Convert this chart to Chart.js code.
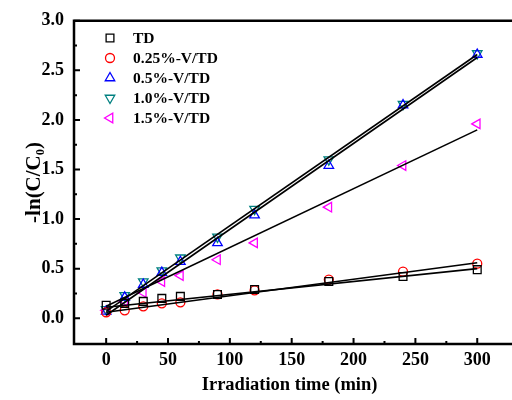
<!DOCTYPE html>
<html>
<head>
<meta charset="utf-8">
<script src="https://cdn.jsdelivr.net/npm/chart.js@4/dist/chart.umd.min.js"></script>
<style>
  html, body { margin: 0; padding: 0; background: #fff; }
  #wrap { width: 512px; height: 400px; }
</style>
</head>
<body>
<div id="wrap"><canvas id="graph"></canvas></div>
<script>
// irradiation times (min)
const times = [0, 15, 30, 45, 60, 90, 120, 180, 240, 300];

// -ln(C/C0) per sample
const tdVals   = [0.13, 0.15, 0.17, 0.20, 0.22, 0.24, 0.29, 0.37, 0.42, 0.49];
const v025Vals = [0.06, 0.08, 0.12, 0.15, 0.16, 0.24, 0.28, 0.39, 0.47, 0.55];
const v05Vals  = [0.07, 0.21, 0.34, 0.46, 0.57, 0.76, 1.04, 1.54, 2.15, 2.66];
const v10Vals  = [0.09, 0.23, 0.37, 0.48, 0.61, 0.82, 1.10, 1.60, 2.16, 2.67];
const v15Vals  = [0.08, 0.17, 0.26, 0.37, 0.43, 0.59, 0.76, 1.12, 1.54, 1.96];

// linear fit lines, read at t = 0 and t = 300
const fitTimes = [0, 300];
const fitTD   = [0.11, 0.50];
const fit025  = [0.06, 0.56];
const fit05   = [0.03, 2.63];
const fit10   = [0.07, 2.66];
const fit15   = [0.12, 1.90];

const labels = ['TD', '0.25%-V/TD', '0.5%-V/TD', '1.0%-V/TD', '1.5%-V/TD'];
const xTicks = [0, 50, 100, 150, 200, 250, 300];
const yTicks = [0.0, 0.5, 1.0, 1.5, 2.0, 2.5, 3.0];

const FONT = "'Liberation Serif', 'Times New Roman', serif";

const pts = (xs, ys) => xs.map((x, i) => ({x: x, y: ys[i]}));

function markerSet(label, vals, color, style, rot, r) {
    return {
        type: 'scatter',
        label: label,
        data: pts(times, vals),
        borderColor: color,
        backgroundColor: 'rgba(0,0,0,0)',
        pointStyle: style,
        rotation: rot,
        pointRadius: r,
        pointBorderWidth: 1.3,
        order: 1
    };
}

function fitSet(vals) {
    return {
        type: 'line',
        label: 'fit',
        data: pts(fitTimes, vals),
        borderColor: '#000',
        borderWidth: 1.6,
        pointRadius: 0,
        fill: false,
        order: 0
    };
}

const markers = [
    markerSet(labels[0], tdVals, '#000000', 'rect', 0, 5.5),
    markerSet(labels[1], v025Vals, '#ff0000', 'circle', 0, 4.5),
    markerSet(labels[2], v05Vals, '#0000ff', 'triangle', 0, 5.5),
    markerSet(labels[3], v10Vals, '#008080', 'triangle', 180, 5.5),
    markerSet(labels[4], v15Vals, '#ff00ff', 'triangle', 270, 5.5)
];

// frame, inward ticks and legend
const decor = {
    id: 'decor',
    afterDraw(chart) {
        const ctx = chart.ctx;
        const a = chart.chartArea;
        const xs = chart.scales.x, ys = chart.scales.y;
        ctx.save();
        ctx.strokeStyle = '#000';
        ctx.lineWidth = 2.5;
        ctx.beginPath();
        ctx.moveTo(512, a.top);
        ctx.lineTo(a.left, a.top);
        ctx.lineTo(a.left, a.bottom);
        ctx.lineTo(512, a.bottom);
        ctx.stroke();

        ctx.lineWidth = 2;
        ctx.beginPath();
        for (let v = 0; v <= 300; v += 25) {
            const px = xs.getPixelForValue(v);
            const len = v % 50 === 0 ? 6 : 3;
            ctx.moveTo(px, a.bottom);
            ctx.lineTo(px, a.bottom - len);
        }
        for (let k = 0; k <= 12; k++) {
            const py = ys.getPixelForValue(k * 0.25);
            const len = k % 2 === 0 ? 6 : 3;
            ctx.moveTo(a.left, py);
            ctx.lineTo(a.left + len, py);
        }
        ctx.stroke();

        ctx.font = 'bold 15.5px ' + FONT;
        ctx.textBaseline = 'middle';
        markers.forEach((ds, i) => {
            const y = 38 + i * 20;
            ctx.strokeStyle = ds.borderColor;
            ctx.fillStyle = 'rgba(0,0,0,0)';
            ctx.lineWidth = 1.3;
            Chart.helpers.drawPoint(ctx, {
                pointStyle: ds.pointStyle,
                rotation: ds.rotation,
                radius: ds.pointRadius,
                borderWidth: 1.3
            }, 110, y);
            ctx.fillStyle = '#000';
            ctx.fillText(ds.label, 133, y + 1);
        });
        ctx.restore();
    }
};

const config = {
    type: 'scatter',
    data: {
        datasets: [
            fitSet(fitTD), fitSet(fit025), fitSet(fit05), fitSet(fit10), fitSet(fit15)
        ].concat(markers)
    },
    options: {
        responsive: true,
        maintainAspectRatio: false,
        animation: false,
        layout: { padding: { top: 20, right: 1, left: 0, bottom: 0 } },
        plugins: {
            legend: { display: false },
            tooltip: { enabled: false }
        },
        scales: {
            x: {
                type: 'linear',
                min: -26,
                max: 322.6,
                afterBuildTicks(s) { s.ticks = xTicks.map(v => ({value: v})); },
                afterFit(s) { s.height = 56; },
                grid: { display: false, drawTicks: false },
                border: { display: false },
                ticks: {
                    color: '#000',
                    padding: 6,
                    maxRotation: 0,
                    font: { family: FONT, size: 18, weight: 'bold' }
                },
                title: {
                    display: true,
                    text: 'Irradiation time (min)',
                    color: '#000',
                    padding: { top: 0, bottom: 4 },
                    font: { family: FONT, size: 18.5, weight: 'bold' }
                }
            },
            y: {
                type: 'linear',
                min: -0.26,
                max: 3.0,
                afterBuildTicks(s) { s.ticks = yTicks.map(v => ({value: v})); },
                afterFit(s) { s.width = 74; },
                grid: { display: false, drawTicks: false },
                border: { display: false },
                ticks: {
                    color: '#000',
                    padding: 10,
                    callback: v => v.toFixed(1),
                    font: { family: FONT, size: 18, weight: 'bold' }
                },
                title: {
                    display: true,
                    text: '-ln(C/C\u2080)',
                    color: '#000',
                    padding: { top: 22, bottom: 0 },
                    font: { family: FONT, size: 21, weight: 'bold' }
                }
            }
        }
    },
    plugins: [decor]
};

const graph = document.querySelector('#graph');
new Chart(graph, config);
</script>
</body>
</html>
